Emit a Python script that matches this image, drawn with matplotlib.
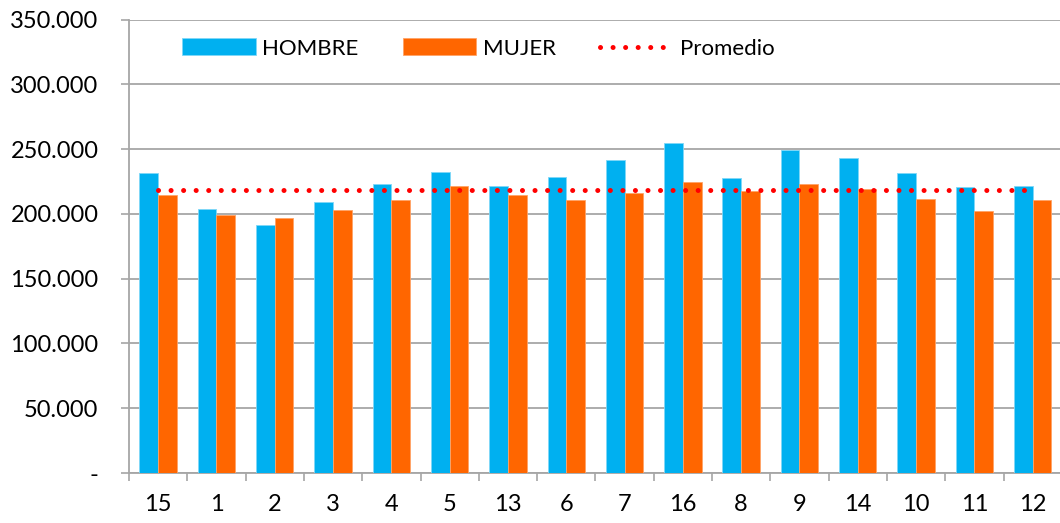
import numpy as np
import matplotlib.pyplot as plt
from matplotlib.ticker import FuncFormatter, MultipleLocator

# values
categorias = ["15", "1", "2", "3", "4", "5", "13", "6", "7", "16", "8", "9", "14", "10", "11", "12"]
hombre = [231900, 203800, 191800, 208900, 223400, 232100, 221900, 228300,
          241800, 254600, 227500, 249700, 243400, 231400, 220400, 221400]
mujer = [214800, 199500, 196600, 203300, 210700, 221900, 214800, 210700,
         216300, 224500, 217300, 222700, 219100, 211500, 202300, 210400]
promedio = 218100

AZUL = "#00B0F0"
NARANJA = "#FF6600"
ROJO = "#FF0000"
GRIS = "#A6A6A6"

plt.rcParams["font.family"] = ["Lato", "DejaVu Sans"]

fig = plt.figure(figsize=(10.6, 5.23), dpi=100)
ax = fig.add_axes([0.1217, 0.0956, 0.88, 0.867])

x = np.arange(len(categorias))
w = 0.32
b1 = ax.bar(x - w / 2, hombre, w, color=AZUL, edgecolor="#7FD7F7", linewidth=0.6, label="HOMBRE", zorder=3)
b2 = ax.bar(x + w / 2, mujer, w, color=NARANJA, edgecolor="#FFA366", linewidth=0.6, label="MUJER", zorder=3)
l1, = ax.plot(x, [promedio] * len(x), color=ROJO, lw=3.6, linestyle=(0, (0.01, 2.5)),
              dash_capstyle="round", label="Promedio", zorder=4)

ax.set_xlim(-0.5, len(categorias) - 0.5)
ax.set_ylim(0, 350000)
ax.yaxis.set_major_locator(MultipleLocator(50000))
ax.yaxis.set_major_formatter(FuncFormatter(
    lambda v, p: "-" if v == 0 else f"{int(v):,}".replace(",", ".")))
ax.grid(axis="y", color=GRIS, lw=1.3, zorder=0)

ax.set_xticks(x)
ax.set_xticklabels(categorias)
ax.set_xticks(np.arange(-0.5, len(categorias)), minor=True)
ax.tick_params(axis="x", which="major", length=0, pad=15, labelsize=17)
ax.tick_params(axis="x", which="minor", length=6, width=1.2, color=GRIS, direction="out")
ax.tick_params(axis="y", length=6, width=1.2, color=GRIS, pad=16, labelsize=17)

for s in ["top", "right"]:
    ax.spines[s].set_visible(False)
for s in ["left", "bottom"]:
    ax.spines[s].set_color(GRIS)
    ax.spines[s].set_linewidth(1.3)

ax.legend(handles=[b1, b2, l1], loc="center left", bbox_to_anchor=(0.057, 0.936), ncol=3,
          frameon=False, fontsize=16, handlelength=3.3, handleheight=0.8, handletextpad=0.3,
          columnspacing=2.0, borderpad=0, borderaxespad=0)

fig.savefig("out.png", dpi=100)
